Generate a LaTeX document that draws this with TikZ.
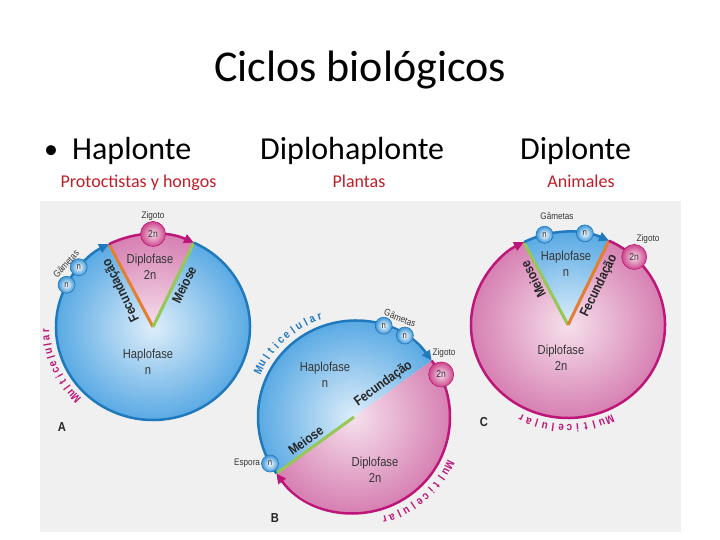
\documentclass[tikz,border=0pt]{standalone}
\usepackage{fontspec}
\setmainfont{Carlito}
\newfontfamily\diag[FakeStretch=0.86]{Liberation Sans}
\usetikzlibrary{positioning,arrows.meta}

\definecolor{blueline}{RGB}{32,121,189}
\definecolor{pinkline}{RGB}{190,22,120}
\definecolor{blueout}{RGB}{90,170,228}
\definecolor{bluein}{RGB}{222,238,250}
\definecolor{pinkout}{RGB}{214,128,178}
\definecolor{pinkin}{RGB}{246,224,236}
\definecolor{fecund}{RGB}{226,128,48}
\definecolor{meio}{RGB}{150,200,85}
\definecolor{txtgray}{RGB}{55,55,55}
\definecolor{subred}{RGB}{192,30,40}
\definecolor{panel}{RGB}{240,240,240}
\definecolor{beadblue}{RGB}{60,150,215}
\definecolor{beadpink}{RGB}{205,70,140}

\tikzset{
  phase/.style={font=\diag\fontsize{13}{16}\selectfont, text=txtgray, align=center},
  small/.style={font=\diag\fontsize{9.5}{11}\selectfont, text=txtgray, inner sep=1pt},
  edgetxt/.style={font=\diag\bfseries\fontsize{13.5}{15}\selectfont, text=black!85, inner sep=3pt},
  panelname/.style={font=\diag\bfseries\fontsize{13}{15}\selectfont, text=black!85},
  mcl/.style={font=\diag\bfseries\fontsize{11.5}{12}\selectfont, inner sep=0},
  bead/.style={circle, inner sep=0, line width=0.6pt},
  beadn/.style={bead, minimum size=17pt, inner color=white, outer color=beadblue, draw=blueline, font=\diag\fontsize{9}{10}\selectfont, text=black!80},
  bead2n/.style={bead, minimum size=25pt, inner color=pinkin, outer color=beadpink, draw=pinkline, font=\diag\fontsize{10}{12}\selectfont, text=black!80},
  bluearc/.style={draw=blueline, line width=2.5pt, -{Triangle[length=10pt,width=9pt]}},
  pinkarc/.style={draw=pinkline, line width=2.5pt, -{Triangle[length=10pt,width=9pt]}},
  fecline/.style={draw=fecund, line width=3pt},
  meiline/.style={draw=meio, line width=3pt},
}

\begin{document}
\begin{tikzpicture}[x=1pt, y=1pt]
        \useasboundingbox (0,0) rectangle (720,540);
        \fill[white] (0,0) rectangle (720,540);

        %% title and headings
        \node[font=\fontsize{44}{50}\selectfont, anchor=base] (title) at (360,458) {Ciclos biológicos};
        \node[font=\fontsize{28}{34}\selectfont, anchor=base west, inner sep=0] (bul) at (44,381) {•};
        \node[font=\fontsize{32}{38}\selectfont, anchor=base west, inner sep=0] (hap) at (72,380) {Haplonte};
        \node[font=\fontsize{32}{38}\selectfont, anchor=base west, inner sep=0] (diphap) at (260,380) {Diplohaplonte};
        \node[font=\fontsize{32}{38}\selectfont, anchor=base west, inner sep=0] (dip) at (520,380) {Diplonte};
        \node[font=\fontsize{18}{20}\selectfont, text=subred, anchor=base] (protoc) at (138.5,352) {Protoctistas y hongos};
        \node[font=\fontsize{18}{20}\selectfont, text=subred, anchor=base] (plant) at (359,352) {Plantas};
        \node[font=\fontsize{18}{20}\selectfont, text=subred, anchor=base] (anim) at (581,352) {Animales};

        %% panel
        \fill[panel] (40,8) rectangle (681,339);

        %% A: haplonte
        \begin{scope}[shift={(153,213)}]
          \coordinate (oA) at (0,0);
          \coordinate (fA) at (117:97 and 93);
          \coordinate (mA) at (65:97 and 93);
          \shade[inner color=bluein, outer color=blueout] (oA) ellipse[x radius=97, y radius=93];
          \begin{scope}
            \clip (oA) -- (fA) arc[start angle=117, end angle=65, x radius=97, y radius=93] -- cycle;
            \shade[inner color=pinkin, outer color=pinkout] (oA) ellipse[x radius=97, y radius=93];
          \end{scope}
          \draw[fecline] (oA) -- (fA) node[edgetxt, pos=.5, rotate=116, anchor=south] {Fecundação};
          \draw[meiline] (oA) -- (mA) node[edgetxt, pos=.55, rotate=64, anchor=north] {Meiose};
          \draw[bluearc] (mA) arc[start angle=65, end angle=-243, x radius=97, y radius=93];
          \draw[pinkarc] (fA) arc[start angle=117, end angle=65, x radius=97, y radius=93];
          \node[beadn] (gA2) at (153:97 and 93) {n};
          \node[beadn] (gA1) at (140:97 and 93) {n};
          \node[small, rotate=48] (gamA) at (-87,63) {Gâmetas};
          \node[bead2n] (zigA) at (90:97 and 93) {2n};
          \node[small, above=0pt of zigA] (zigAl) {Zigoto};
          \node[phase] (dipA) at (-3,60) {Diplofase\\2n};
          \node[phase] (hapA) at (-5,-35) {Haplofase\\n};
          \foreach \ch [count=\i from 0] in {M,u,l,t,i,c,e,l,u,l,a,r}
            \node[mcl, text=pinkline, rotate={134-3.8*\i}] at ({224-3.8*\i}:107 and 103) {\ch};
        \end{scope}
        \node[panelname] (nameA) at (62,113) {A};

        %% B: diplohaplonte
        \begin{scope}[shift={(354,123)}]
          \coordinate (oB) at (0,0);
          \coordinate (zB) at (36:96);
          \coordinate (eB) at (216:96);
          \begin{scope}
            \clip (zB) arc[start angle=36, end angle=216, radius=96] -- cycle;
            \shade[inner color=bluein, outer color=blueout] (oB) circle[radius=96];
          \end{scope}
          \begin{scope}
            \clip (eB) arc[start angle=216, end angle=396, radius=96] -- cycle;
            \shade[inner color=pinkin, outer color=pinkout] (oB) circle[radius=96];
          \end{scope}
          \draw[meiline] (oB) -- (eB) node[edgetxt, pos=.55, rotate=36, anchor=south] {Meiose};
          \path (oB) -- (zB) node[edgetxt, pos=.45, rotate=36, anchor=south] {Fecundação};
          \draw[bluearc] (eB) arc[start angle=216, end angle=36, radius=96];
          \draw[pinkarc] (zB) arc[start angle=36, end angle=-144, radius=96];
          \node[beadn] (gB1) at (72:96) {n};
          \node[beadn] (gB2) at (58:96) {n};
          \node[small, rotate=-22] (gamB) at (46,99) {Gâmetas};
          \node[bead2n] (zigB) at (26:97) {2n};
          \node[small] (zigBl) at (90,64) {Zigoto};
          \node[beadn] (espB) at (209:96) {n};
          \node[small, left=0pt of espB] (espBl) {Espora};
          \node[phase] (hapB) at (-29,42) {Haplofase\\n};
          \node[phase] (dipB) at (21,-53) {Diplofase\\2n};
          \foreach \ch [count=\i from 0] in {M,u,l,t,i,c,e,l,u,l,a,r}
            \node[mcl, text=blueline, rotate={64-4.1*\i}] at ({154-4.1*\i}:106) {\ch};
          \foreach \ch [count=\i from 0] in {M,u,l,t,i,c,e,l,u,l,a,r}
            \node[mcl, text=pinkline, rotate={-116.6-4.25*\i}] at ({-26.6-4.25*\i}:107) {\ch};
        \end{scope}
        \node[panelname] (nameB) at (275,22) {B};

        %% C: diplonte
        \begin{scope}[shift={(568,215)}]
          \coordinate (oC) at (0,0);
          \coordinate (mC) at (117:97 and 93);
          \coordinate (fC) at (65:97 and 93);
          \shade[inner color=pinkin, outer color=pinkout] (oC) ellipse[x radius=97, y radius=93];
          \begin{scope}
            \clip (oC) -- (mC) arc[start angle=117, end angle=65, x radius=97, y radius=93] -- cycle;
            \shade[inner color=bluein, outer color=blueout] (oC) ellipse[x radius=97, y radius=93];
          \end{scope}
          \draw[meiline] (oC) -- (mC) node[edgetxt, pos=.6, rotate=117, anchor=south] {Meiose};
          \draw[fecline] (oC) -- (fC) node[edgetxt, pos=.52, rotate=64, anchor=north] {Fecundação};
          \draw[pinkarc] (fC) arc[start angle=65, end angle=-243, x radius=97, y radius=93];
          \draw[bluearc] (mC) arc[start angle=117, end angle=65, x radius=97, y radius=93];
          \node[beadn] (gC1) at (104:97 and 93) {n};
          \node[beadn] (gC2) at (80:97 and 93) {n};
          \node[small] (gamC) at (-11,109) {Gâmetas};
          \node[bead2n] (zigC) at (47:97 and 93) {2n};
          \node[small] (zigCl) at (80,86) {Zigoto};
          \node[phase] (hapC) at (-2,61) {Haplofase\\n};
          \node[phase] (dipC) at (-7,-33) {Diplofase\\2n};
          \foreach \ch [count=\i from 0] in {M,u,l,t,i,c,e,l,u,l,a,r}
            \node[mcl, text=pinkline, rotate={-157-4.45*\i}] at ({-67-4.45*\i}:107 and 103) {\ch};
        \end{scope}
        \node[panelname] (nameC) at (484,118) {C};
\end{tikzpicture}
\end{document}
